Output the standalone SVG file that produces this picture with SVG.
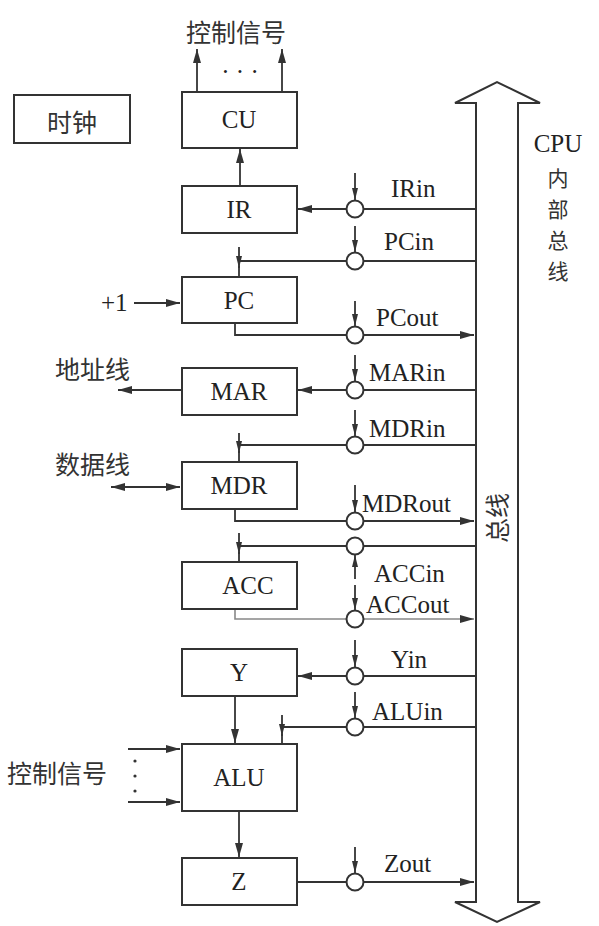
<svg xmlns="http://www.w3.org/2000/svg" width="599" height="926" viewBox="0 0 599 926">
<defs>
<marker id="ah" markerUnits="userSpaceOnUse" markerWidth="14" markerHeight="8" refX="14" refY="4" orient="auto-start-reverse"><path d="M0,0 L14,4 L0,8 z" fill="#333"/></marker>
<marker id="sa" markerUnits="userSpaceOnUse" markerWidth="12" markerHeight="6" refX="12" refY="3" orient="auto-start-reverse"><path d="M0,0 L12,3 L0,6 z" fill="#333"/></marker>
</defs>
<style>
.box{fill:#fff;stroke:#333;stroke-width:2}
.ln{fill:none;stroke:#333;stroke-width:1.8}
.lt{fill:none;stroke:#888;stroke-width:1.6}
.ctl{fill:none;stroke:#333;stroke-width:1.8}
.sw{fill:#fff;stroke:#333;stroke-width:2}
.t{font-family:"Liberation Serif","Times New Roman",serif;font-size:25px;fill:#222}
.c{text-anchor:middle}
.cjk{font-family:"Noto Sans CJK SC","Noto Sans CJK TC",sans-serif;font-size:25px;fill:#333}
.vc{font-family:"Noto Sans CJK SC","Noto Sans CJK TC",sans-serif;font-size:21px;fill:#333;text-anchor:middle}
</style>

<g id="bus">
<path class="box" d="M476,902 L476,103 L455,103 L497,82 L540,103 L518,103 L518,902 L540,902 L497,922 L455,902 Z"/>
<text class="cjk" transform="translate(507,518) rotate(-90)" text-anchor="middle" font-size="24">总线</text>
</g>
<g id="bus-label">
<text class="t c" x="558" y="152">CPU</text>
<text class="vc" x="558" y="186">内</text>
<text class="vc" x="558" y="217">部</text>
<text class="vc" x="558" y="248">总</text>
<text class="vc" x="558" y="279">线</text>
</g>

<g id="connectors">
<line class="ln" x1="197" y1="92" x2="197" y2="49" marker-end="url(#ah)"/>
<line class="ln" x1="282" y1="92" x2="282" y2="49" marker-end="url(#ah)"/>
<line class="ln" x1="240" y1="186" x2="240" y2="149" marker-end="url(#ah)"/>
<line class="ln" x1="476" y1="209" x2="298" y2="209" marker-end="url(#ah)"/>
<path class="ln" d="M476,261 H239"/>
<line class="ln" x1="239" y1="247" x2="239" y2="268" marker-end="url(#sa)"/>
<line class="ln" x1="239" y1="266" x2="239" y2="277"/>
<line class="ln" x1="134" y1="303" x2="180" y2="303" marker-end="url(#ah)"/>
<path class="ln" d="M235,323 V335 H474" marker-end="url(#ah)"/>
<line class="ln" x1="476" y1="390" x2="298" y2="390" marker-end="url(#ah)"/>
<line class="ln" x1="181" y1="390" x2="118" y2="390" marker-end="url(#ah)"/>
<path class="ln" d="M476,445 H239"/>
<line class="ln" x1="239" y1="433" x2="239" y2="453" marker-end="url(#sa)"/>
<line class="ln" x1="239" y1="451" x2="239" y2="462"/>
<line class="ln" x1="111" y1="487" x2="180" y2="487" marker-start="url(#ah)" marker-end="url(#ah)"/>
<path class="ln" d="M235,509 V521 H474" marker-end="url(#ah)"/>
<path class="ln" d="M476,546 H239"/>
<line class="ln" x1="239" y1="533" x2="239" y2="554" marker-end="url(#sa)"/>
<line class="ln" x1="239" y1="552" x2="239" y2="562"/>
<path class="lt" d="M235,609 V619 H474" marker-end="url(#ah)"/>
<line class="ln" x1="476" y1="676" x2="298" y2="676" marker-end="url(#ah)"/>
<line class="ln" x1="235" y1="696" x2="235" y2="743" marker-end="url(#ah)"/>
<path class="ln" d="M476,727 H282"/>
<line class="ln" x1="282" y1="715" x2="282" y2="736" marker-end="url(#sa)"/>
<line class="ln" x1="282" y1="734" x2="282" y2="744"/>
<line class="ln" x1="128" y1="749" x2="180" y2="749" marker-end="url(#ah)"/>
<line class="ln" x1="128" y1="802" x2="180" y2="802" marker-end="url(#ah)"/>
<line class="ln" x1="239" y1="811" x2="239" y2="857" marker-end="url(#ah)"/>
<line class="ln" x1="297" y1="882" x2="474" y2="882" marker-end="url(#ah)"/>

<line class="ctl" x1="355" y1="173" x2="355" y2="200" marker-end="url(#sa)"/>
<line class="ctl" x1="355" y1="226" x2="355" y2="252" marker-end="url(#sa)"/>
<line class="ctl" x1="355" y1="301" x2="355" y2="326" marker-end="url(#sa)"/>
<line class="ctl" x1="355" y1="355" x2="355" y2="381" marker-end="url(#sa)"/>
<line class="ctl" x1="355" y1="410" x2="355" y2="436" marker-end="url(#sa)"/>
<line class="ctl" x1="355" y1="485" x2="355" y2="512" marker-end="url(#sa)"/>
<line class="ctl" x1="355" y1="579" x2="355" y2="555" marker-end="url(#sa)"/>
<line class="ctl" x1="355" y1="585" x2="355" y2="610" marker-end="url(#sa)"/>
<line class="ctl" x1="355" y1="640" x2="355" y2="667" marker-end="url(#sa)"/>
<line class="ctl" x1="355" y1="692" x2="355" y2="718" marker-end="url(#sa)"/>
<line class="ctl" x1="355" y1="847" x2="355" y2="873" marker-end="url(#sa)"/>

<circle class="sw" cx="355" cy="209" r="8.5"/>
<circle class="sw" cx="355" cy="261" r="8.5"/>
<circle class="sw" cx="355" cy="335" r="8.5"/>
<circle class="sw" cx="355" cy="390" r="8.5"/>
<circle class="sw" cx="355" cy="445" r="8.5"/>
<circle class="sw" cx="355" cy="521" r="8.5"/>
<circle class="sw" cx="355" cy="546" r="8.5"/>
<circle class="sw" cx="355" cy="619" r="8.5"/>
<circle class="sw" cx="355" cy="676" r="8.5"/>
<circle class="sw" cx="355" cy="727" r="8.5"/>
<circle class="sw" cx="355" cy="882" r="8.5"/>

<text class="t" x="391" y="197">IRin</text>
<text class="t" x="384" y="250">PCin</text>
<text class="t" x="376" y="326">PCout</text>
<text class="t" x="369" y="381">MARin</text>
<text class="t" x="369" y="437">MDRin</text>
<text class="t" x="362" y="512">MDRout</text>
<text class="t" x="374" y="582">ACCin</text>
<text class="t" x="366" y="613">ACCout</text>
<text class="t" x="391" y="668">Yin</text>
<text class="t" x="372" y="720">ALUin</text>
<text class="t" x="384" y="872">Zout</text>
<text class="t c" x="240" y="80">· · ·</text>
<text class="t" x="101" y="311">+1</text>
<text class="cjk" x="55" y="379">地址线</text>
<text class="cjk" x="55" y="474">数据线</text>
<text class="cjk" x="186" y="42">控制信号</text>
<text class="cjk" x="7" y="783">控制信号</text>
<g fill="#333"><circle cx="135" cy="761" r="1.6"/><circle cx="135" cy="776" r="1.6"/><circle cx="135" cy="791" r="1.6"/></g>
</g>

<g id="clock"><rect class="box" x="14" y="95" width="116" height="48"/><text class="cjk c" x="72" y="132">时钟</text></g>
<g id="CU"><rect class="box" x="182" y="92" width="115" height="56"/><text class="t c" x="239" y="128">CU</text></g>
<g id="IR"><rect class="box" x="182" y="186" width="115" height="47"/><text class="t c" x="239" y="218">IR</text></g>
<g id="PC"><rect class="box" x="182" y="277" width="115" height="46"/><text class="t c" x="239" y="309">PC</text></g>
<g id="MAR"><rect class="box" x="182" y="368" width="115" height="47"/><text class="t c" x="239" y="400">MAR</text></g>
<g id="MDR"><rect class="box" x="182" y="462" width="115" height="47"/><text class="t c" x="239" y="494">MDR</text></g>
<g id="ACC"><rect class="box" x="182" y="562" width="115" height="47"/><text class="t c" x="248" y="594">ACC</text></g>
<g id="Y"><rect class="box" x="182" y="649" width="115" height="47"/><text class="t c" x="239" y="681">Y</text></g>
<g id="ALU"><rect class="box" x="182" y="744" width="115" height="67"/><text class="t c" x="239" y="786">ALU</text></g>
<g id="Z"><rect class="box" x="182" y="858" width="115" height="47"/><text class="t c" x="239" y="890">Z</text></g>
</svg>
